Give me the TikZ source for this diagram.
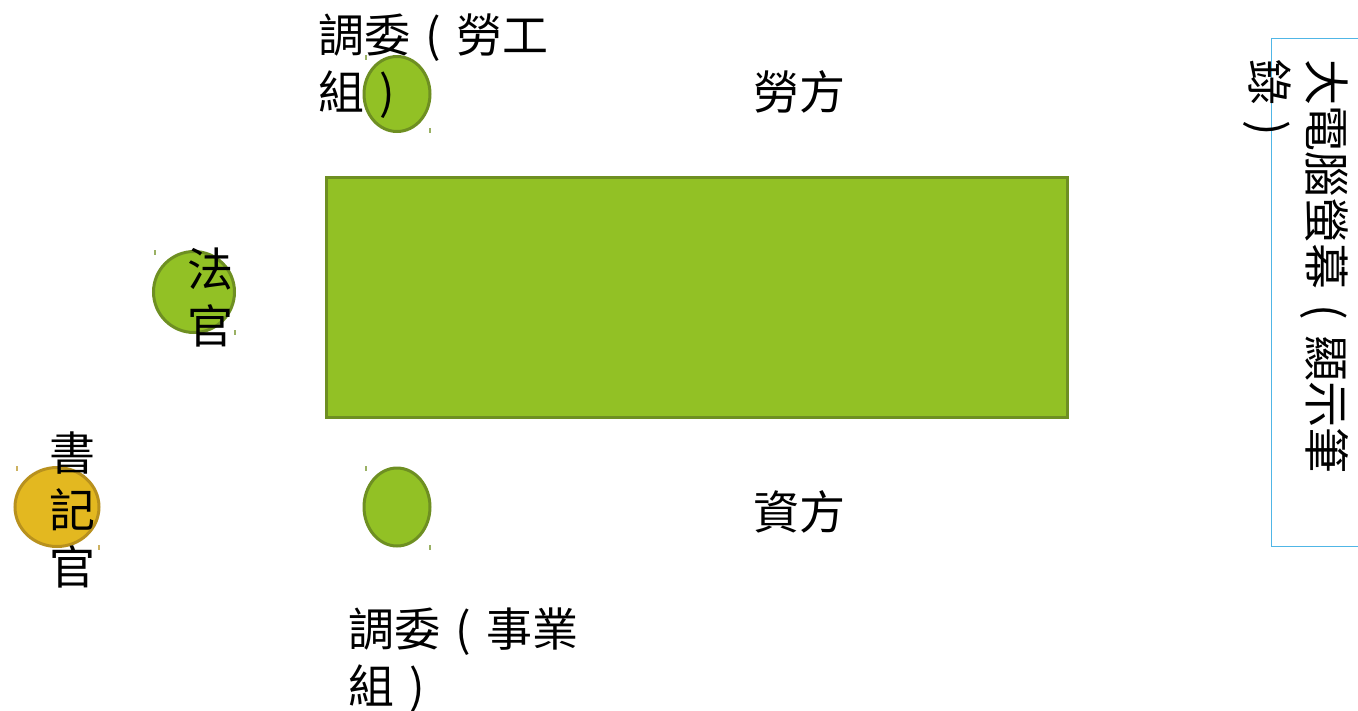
\documentclass[tikz,border=0pt]{standalone}
\usepackage{fontspec}
\usetikzlibrary{shapes.geometric}
\newfontfamily\cjk{Noto Sans CJK TC}
\definecolor{gfill}{RGB}{146,193,37}
\definecolor{gline}{RGB}{110,143,34}
\definecolor{yfill}{RGB}{227,184,32}
\definecolor{yline}{RGB}{184,145,30}
\definecolor{scrline}{RGB}{80,182,230}
\newcommand{\mylines}[1]{\vtop{\baselineskip=57pt\lineskiplimit=-100pt #1}}
\newcommand{\lp}{\makebox[1em][c]{(}}
\newcommand{\rp}{\makebox[1em][c]{)}}
\tikzset{
  lbl/.style={inner sep=0pt, outer sep=0pt, anchor=base west, font=\cjk\fontsize{46}{57}\selectfont, text=black},
  gshape/.style={fill=gfill, draw=gline, line width=3pt},
  yshape/.style={fill=yfill, draw=yline, line width=3pt},
  tick/.style={line width=1.2pt},
}
\begin{document}
\begin{tikzpicture}[x=1pt,y=-1pt]
\useasboundingbox (0,0) rectangle (1358,710);
% table
\node[gshape, rectangle, minimum width=741pt, minimum height=240pt, inner sep=0pt, anchor=north west] (table) at (325,176) {};
% seats
\node[gshape, ellipse, minimum width=66pt, minimum height=75pt, inner sep=0pt] (labseat) at (397,94) {};
\node[gshape, ellipse, minimum width=66pt, minimum height=78pt, inner sep=0pt] (bizseat) at (397,507) {};
\node[gshape, circle, minimum size=81pt, inner sep=0pt] (judge) at (194,292) {};
\node[yshape, ellipse, minimum width=84pt, minimum height=79pt, inner sep=0pt] (clerk) at (57,507) {};
% small ticks
\draw[tick, gline!70] (366,55) -- (366,60) (430,128) -- (430,133);
\draw[tick, gline!70] (366,466) -- (366,471) (430,545) -- (430,550);
\draw[tick, gline!70] (155,250) -- (155,255) (235,330) -- (235,335);
\draw[tick, yline!70] (17,466) -- (17,471) (99,545) -- (99,550);
% screen
\draw[scrline, line width=1pt] (1372,38) -- (1271,38) -- (1271,546) -- (1372,546);
% labels
\node[lbl] (labtxt) at (318,52) {\mylines{\hbox{調委\lp 勞工}\hbox{組\rp}}};
\node[lbl] (biztxt) at (348,646) {\mylines{\hbox{調委\lp 事業}\hbox{組\rp}}};
\node[lbl] (labside) at (753,109) {勞方};
\node[lbl] (bizside) at (753,529) {資方};
\node[lbl] (judgetxt) at (187,286) {\mylines{\hbox{法}\hbox{官}}};
\node[lbl] (clerktxt) at (49,470) {\mylines{\hbox{書}\hbox{記}\hbox{官}}};
\node[lbl, rotate=-90] (screen) at (1309,59) {\mylines{\hbox{大電腦螢幕\lp 顯示筆}\hbox{錄\rp}}};
\end{tikzpicture}
\end{document}
